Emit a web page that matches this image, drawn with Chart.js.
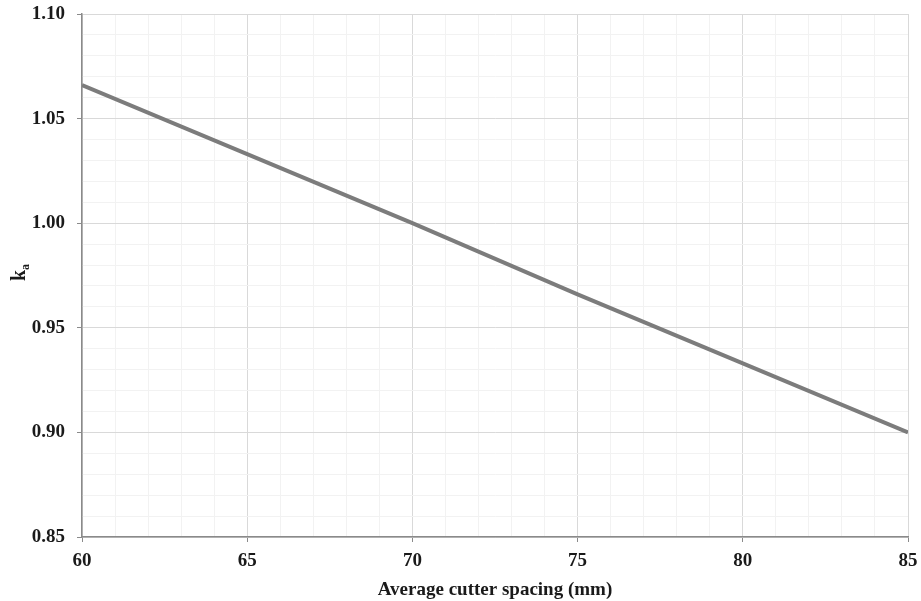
<!DOCTYPE html>
<html>
<head>
<meta charset="utf-8">
<script src="https://cdn.jsdelivr.net/npm/chart.js@4.4.1/dist/chart.umd.min.js"></script>
<style>
  html, body { margin: 0; padding: 0; background: #ffffff; }
  #wrap { width: 921px; height: 601px; }
</style>
</head>
<body>
<div id="wrap"><canvas id="c" width="921" height="601"></canvas></div>
<script>
// Average cutter spacing (mm) and the corresponding k_a factor
const spacing = [60, 65, 70, 75, 80, 85];
const kaValues = [1.066, 1.033, 1.000, 0.966, 0.933, 0.900];
const xTickLabels = ['60', '65', '70', '75', '80', '85'];
const yTickLabels = ['0.85', '0.90', '0.95', '1.00', '1.05', '1.10'];

const serif = '"Liberation Serif", "Times New Roman", serif';
const majorGrid = '#d9d9d9';
const minorGrid = '#f2f2f2';
const axisGrey = '#8a8a8a';

const isMajorX = v => Math.round(v) % 5 === 0;
const isMajorY = v => Math.round(v * 100) % 5 === 0;

// Draws the rotated "k" with subscript "a" as the y-axis title
const yTitlePlugin = {
  id: 'yTitle',
  afterDraw(chart) {
    const ctx = chart.ctx;
    const area = chart.chartArea;
    const cy = (area.top + area.bottom) / 2 - 3;
    ctx.save();
    ctx.translate(25, cy);
    ctx.rotate(-Math.PI / 2);
    ctx.fillStyle = '#1a1a1a';
    ctx.textBaseline = 'alphabetic';
    ctx.textAlign = 'left';
    ctx.font = 'bold 20px ' + serif;
    const kw = ctx.measureText('k').width;
    ctx.font = 'bold 12px ' + serif;
    const aw = ctx.measureText('a').width;
    const start = -(kw + aw) / 2;
    ctx.font = 'bold 20px ' + serif;
    ctx.fillText('k', start, 0);
    ctx.font = 'bold 12px ' + serif;
    ctx.fillText('a', start + kw, 4);
    ctx.restore();
  }
};

new Chart(document.getElementById('c'), {
  type: 'scatter',
  data: {
    datasets: [{
      data: spacing.map((s, i) => ({ x: s, y: kaValues[i] })),
      showLine: true,
      borderColor: '#7c7c7c',
      borderWidth: 4,
      pointRadius: 0,
      tension: 0,
      fill: false
    }]
  },
  options: {
    responsive: false,
    animation: false,
    devicePixelRatio: 1,
    layout: { padding: { top: 14, right: 13, left: 0, bottom: 0 } },
    plugins: { legend: { display: false }, tooltip: { enabled: false } },
    scales: {
      x: {
        type: 'linear',
        min: 60, max: 85,
        afterFit(scale) {
          scale.height = 64;
          scale.paddingLeft = 0;
          scale.paddingRight = 0;
        },
        afterBuildTicks(scale) {
          const t = [];
          for (let v = 60; v <= 85; v++) t.push({ value: v });
          scale.ticks = t;
        },
        border: { color: axisGrey, width: 1.5 },
        grid: {
          color: c => isMajorX(c.tick.value) ? majorGrid : minorGrid,
          tickColor: c => isMajorX(c.tick.value) ? axisGrey : 'rgba(0,0,0,0)',
          tickLength: 5,
          lineWidth: 1
        },
        ticks: {
          autoSkip: false,
          maxRotation: 0,
          padding: 8,
          color: '#1a1a1a',
          font: { family: serif, size: 19, weight: 'bold' },
          callback: v => isMajorX(v) ? xTickLabels[Math.round((v - 60) / 5)] : ''
        },
        title: {
          display: true,
          text: 'Average cutter spacing (mm)',
          color: '#1a1a1a',
          font: { family: serif, size: 19, weight: 'bold' },
          padding: { top: 4, bottom: 0 }
        }
      },
      y: {
        type: 'linear',
        min: 0.85, max: 1.10,
        afterFit(scale) {
          scale.width = 82;
          scale.paddingTop = 0;
          scale.paddingBottom = 0;
        },
        afterBuildTicks(scale) {
          const t = [];
          for (let i = 0; i <= 25; i++) t.push({ value: Math.round((0.85 + i * 0.01) * 100) / 100 });
          scale.ticks = t;
        },
        border: { color: axisGrey, width: 1.5 },
        grid: {
          color: c => isMajorY(c.tick.value) ? majorGrid : minorGrid,
          tickColor: c => isMajorY(c.tick.value) ? axisGrey : 'rgba(0,0,0,0)',
          tickLength: 5,
          lineWidth: 1
        },
        ticks: {
          autoSkip: false,
          padding: 12,
          color: '#1a1a1a',
          font: { family: serif, size: 19, weight: 'bold' },
          callback: v => isMajorY(v) ? yTickLabels[Math.round((v - 0.85) * 20)] : ''
        }
      }
    }
  },
  plugins: [yTitlePlugin]
});
</script>
</body>
</html>
